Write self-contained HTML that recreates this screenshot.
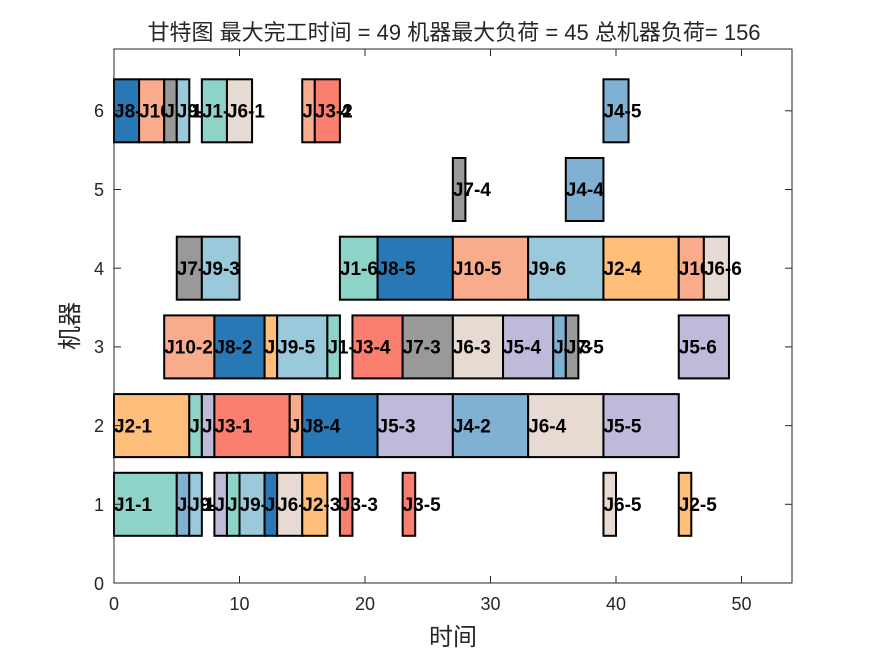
<!DOCTYPE html>
<html><head><meta charset="utf-8"><style>
html,body{margin:0;padding:0;background:#fff;}
svg{display:block;}
.l{font-family:"Liberation Sans",Arial,sans-serif;font-weight:bold;font-size:19px;fill:#000;}
.t{font-family:"Liberation Sans",Arial,sans-serif;font-size:18px;fill:#262626;}
</style></head><body>
<svg width="875" height="656" viewBox="0 0 875 656" xmlns="http://www.w3.org/2000/svg">
<rect x="114" y="49" width="678" height="534" fill="#fff"/>
<g id="bars">
<rect x="114" y="472.8" width="62.75" height="63" fill="#8dd3c7" stroke="#000" stroke-width="2"/><text class="l" x="114" y="511">J1-1</text>
<rect x="176.75" y="472.8" width="12.55" height="63" fill="#80b1d3" stroke="#000" stroke-width="2"/><text class="l" x="176.75" y="511">J4-1</text>
<rect x="189.3" y="472.8" width="12.55" height="63" fill="#9ac9db" stroke="#000" stroke-width="2"/><text class="l" x="189.3" y="511">J9-2</text>
<rect x="214.4" y="472.8" width="12.55" height="63" fill="#bebada" stroke="#000" stroke-width="2"/><text class="l" x="214.4" y="511">J5-1</text>
<rect x="226.95" y="472.8" width="12.55" height="63" fill="#8dd3c7" stroke="#000" stroke-width="2"/><text class="l" x="226.95" y="511">J1-3</text>
<rect x="239.5" y="472.8" width="25.1" height="63" fill="#9ac9db" stroke="#000" stroke-width="2"/><text class="l" x="239.5" y="511">J9-4</text>
<rect x="264.6" y="472.8" width="12.55" height="63" fill="#2878b5" stroke="#000" stroke-width="2"/><text class="l" x="264.6" y="511">J8-3</text>
<rect x="277.15" y="472.8" width="25.1" height="63" fill="#e7dad2" stroke="#000" stroke-width="2"/><text class="l" x="277.15" y="511">J6-2</text>
<rect x="302.25" y="472.8" width="25.1" height="63" fill="#ffbe7a" stroke="#000" stroke-width="2"/><text class="l" x="302.25" y="511">J2-3</text>
<rect x="339.9" y="472.8" width="12.55" height="63" fill="#fa7f6f" stroke="#000" stroke-width="2"/><text class="l" x="339.9" y="511">J3-3</text>
<rect x="402.65" y="472.8" width="12.55" height="63" fill="#fa7f6f" stroke="#000" stroke-width="2"/><text class="l" x="402.65" y="511">J3-5</text>
<rect x="603.45" y="472.8" width="12.55" height="63" fill="#e7dad2" stroke="#000" stroke-width="2"/><text class="l" x="603.45" y="511">J6-5</text>
<rect x="678.75" y="472.8" width="12.55" height="63" fill="#ffbe7a" stroke="#000" stroke-width="2"/><text class="l" x="678.75" y="511">J2-5</text>
<rect x="114" y="394.1" width="75.3" height="63" fill="#ffbe7a" stroke="#000" stroke-width="2"/><text class="l" x="114" y="432.3">J2-1</text>
<rect x="189.3" y="394.1" width="12.55" height="63" fill="#8dd3c7" stroke="#000" stroke-width="2"/><text class="l" x="189.3" y="432.3">J1-2</text>
<rect x="201.85" y="394.1" width="12.55" height="63" fill="#bebada" stroke="#000" stroke-width="2"/><text class="l" x="201.85" y="432.3">J5-2</text>
<rect x="214.4" y="394.1" width="75.3" height="63" fill="#fa7f6f" stroke="#000" stroke-width="2"/><text class="l" x="214.4" y="432.3">J3-1</text>
<rect x="289.7" y="394.1" width="12.55" height="63" fill="#f8ac8c" stroke="#000" stroke-width="2"/><text class="l" x="289.7" y="432.3">J10-3</text>
<rect x="302.25" y="394.1" width="75.3" height="63" fill="#2878b5" stroke="#000" stroke-width="2"/><text class="l" x="302.25" y="432.3">J8-4</text>
<rect x="377.55" y="394.1" width="75.3" height="63" fill="#bebada" stroke="#000" stroke-width="2"/><text class="l" x="377.55" y="432.3">J5-3</text>
<rect x="452.85" y="394.1" width="75.3" height="63" fill="#80b1d3" stroke="#000" stroke-width="2"/><text class="l" x="452.85" y="432.3">J4-2</text>
<rect x="528.15" y="394.1" width="75.3" height="63" fill="#e7dad2" stroke="#000" stroke-width="2"/><text class="l" x="528.15" y="432.3">J6-4</text>
<rect x="603.45" y="394.1" width="75.3" height="63" fill="#bebada" stroke="#000" stroke-width="2"/><text class="l" x="603.45" y="432.3">J5-5</text>
<rect x="164.2" y="315.4" width="50.2" height="63" fill="#f8ac8c" stroke="#000" stroke-width="2"/><text class="l" x="164.2" y="353.6">J10-2</text>
<rect x="214.4" y="315.4" width="50.2" height="63" fill="#2878b5" stroke="#000" stroke-width="2"/><text class="l" x="214.4" y="353.6">J8-2</text>
<rect x="264.6" y="315.4" width="12.55" height="63" fill="#ffbe7a" stroke="#000" stroke-width="2"/><text class="l" x="264.6" y="353.6">J2-2</text>
<rect x="277.15" y="315.4" width="50.2" height="63" fill="#9ac9db" stroke="#000" stroke-width="2"/><text class="l" x="277.15" y="353.6">J9-5</text>
<rect x="327.35" y="315.4" width="12.55" height="63" fill="#8dd3c7" stroke="#000" stroke-width="2"/><text class="l" x="327.35" y="353.6">J1-4</text>
<rect x="352.45" y="315.4" width="50.2" height="63" fill="#fa7f6f" stroke="#000" stroke-width="2"/><text class="l" x="352.45" y="353.6">J3-4</text>
<rect x="402.65" y="315.4" width="50.2" height="63" fill="#999999" stroke="#000" stroke-width="2"/><text class="l" x="402.65" y="353.6">J7-3</text>
<rect x="452.85" y="315.4" width="50.2" height="63" fill="#e7dad2" stroke="#000" stroke-width="2"/><text class="l" x="452.85" y="353.6">J6-3</text>
<rect x="503.05" y="315.4" width="50.2" height="63" fill="#bebada" stroke="#000" stroke-width="2"/><text class="l" x="503.05" y="353.6">J5-4</text>
<rect x="553.25" y="315.4" width="12.55" height="63" fill="#80b1d3" stroke="#000" stroke-width="2"/><text class="l" x="553.25" y="353.6">J4-3</text>
<rect x="565.8" y="315.4" width="12.55" height="63" fill="#999999" stroke="#000" stroke-width="2"/><text class="l" x="565.8" y="353.6">J7-5</text>
<rect x="678.75" y="315.4" width="50.2" height="63" fill="#bebada" stroke="#000" stroke-width="2"/><text class="l" x="678.75" y="353.6">J5-6</text>
<rect x="176.75" y="236.7" width="25.1" height="63" fill="#999999" stroke="#000" stroke-width="2"/><text class="l" x="176.75" y="274.9">J7-2</text>
<rect x="201.85" y="236.7" width="37.65" height="63" fill="#9ac9db" stroke="#000" stroke-width="2"/><text class="l" x="201.85" y="274.9">J9-3</text>
<rect x="339.9" y="236.7" width="37.65" height="63" fill="#8dd3c7" stroke="#000" stroke-width="2"/><text class="l" x="339.9" y="274.9">J1-6</text>
<rect x="377.55" y="236.7" width="75.3" height="63" fill="#2878b5" stroke="#000" stroke-width="2"/><text class="l" x="377.55" y="274.9">J8-5</text>
<rect x="452.85" y="236.7" width="75.3" height="63" fill="#f8ac8c" stroke="#000" stroke-width="2"/><text class="l" x="452.85" y="274.9">J10-5</text>
<rect x="528.15" y="236.7" width="75.3" height="63" fill="#9ac9db" stroke="#000" stroke-width="2"/><text class="l" x="528.15" y="274.9">J9-6</text>
<rect x="603.45" y="236.7" width="75.3" height="63" fill="#ffbe7a" stroke="#000" stroke-width="2"/><text class="l" x="603.45" y="274.9">J2-4</text>
<rect x="678.75" y="236.7" width="25.1" height="63" fill="#f8ac8c" stroke="#000" stroke-width="2"/><text class="l" x="678.75" y="274.9">J10-6</text>
<rect x="703.85" y="236.7" width="25.1" height="63" fill="#e7dad2" stroke="#000" stroke-width="2"/><text class="l" x="703.85" y="274.9">J6-6</text>
<rect x="452.85" y="158" width="12.55" height="63" fill="#999999" stroke="#000" stroke-width="2"/><text class="l" x="452.85" y="196.2">J7-4</text>
<rect x="565.8" y="158" width="37.65" height="63" fill="#80b1d3" stroke="#000" stroke-width="2"/><text class="l" x="565.8" y="196.2">J4-4</text>
<rect x="114" y="79.3" width="25.1" height="63" fill="#2878b5" stroke="#000" stroke-width="2"/><text class="l" x="114" y="117.5">J8-1</text>
<rect x="139.1" y="79.3" width="25.1" height="63" fill="#f8ac8c" stroke="#000" stroke-width="2"/><text class="l" x="139.1" y="117.5">J10-1</text>
<rect x="164.2" y="79.3" width="12.55" height="63" fill="#999999" stroke="#000" stroke-width="2"/><text class="l" x="164.2" y="117.5">J7-1</text>
<rect x="176.75" y="79.3" width="12.55" height="63" fill="#9ac9db" stroke="#000" stroke-width="2"/><text class="l" x="176.75" y="117.5">J9-1</text>
<rect x="201.85" y="79.3" width="25.1" height="63" fill="#8dd3c7" stroke="#000" stroke-width="2"/><text class="l" x="201.85" y="117.5">J1-5</text>
<rect x="226.95" y="79.3" width="25.1" height="63" fill="#e7dad2" stroke="#000" stroke-width="2"/><text class="l" x="226.95" y="117.5">J6-1</text>
<rect x="302.25" y="79.3" width="12.55" height="63" fill="#f8ac8c" stroke="#000" stroke-width="2"/><text class="l" x="302.25" y="117.5">J10-4</text>
<rect x="314.8" y="79.3" width="25.1" height="63" fill="#fa7f6f" stroke="#000" stroke-width="2"/><text class="l" x="314.8" y="117.5">J3-2</text>
<rect x="603.45" y="79.3" width="25.1" height="63" fill="#80b1d3" stroke="#000" stroke-width="2"/><text class="l" x="603.45" y="117.5">J4-5</text>
</g>
<rect x="114" y="49" width="678" height="534" fill="none" stroke="#262626" stroke-width="1"/>
<g stroke="#262626" stroke-width="1">
<line x1="114" y1="583" x2="114" y2="576"/><line x1="239.5" y1="583" x2="239.5" y2="576"/><line x1="365" y1="583" x2="365" y2="576"/><line x1="490.5" y1="583" x2="490.5" y2="576"/><line x1="616" y1="583" x2="616" y2="576"/><line x1="741.5" y1="583" x2="741.5" y2="576"/>
<line x1="239.5" y1="49" x2="239.5" y2="56"/><line x1="365" y1="49" x2="365" y2="56"/><line x1="490.5" y1="49" x2="490.5" y2="56"/><line x1="616" y1="49" x2="616" y2="56"/><line x1="741.5" y1="49" x2="741.5" y2="56"/>
<line x1="114" y1="504.3" x2="121" y2="504.3"/><line x1="114" y1="425.6" x2="121" y2="425.6"/><line x1="114" y1="346.9" x2="121" y2="346.9"/><line x1="114" y1="268.2" x2="121" y2="268.2"/><line x1="114" y1="189.5" x2="121" y2="189.5"/><line x1="114" y1="110.8" x2="121" y2="110.8"/>
<line x1="792" y1="504.3" x2="785" y2="504.3"/><line x1="792" y1="425.6" x2="785" y2="425.6"/><line x1="792" y1="346.9" x2="785" y2="346.9"/><line x1="792" y1="268.2" x2="785" y2="268.2"/><line x1="792" y1="189.5" x2="785" y2="189.5"/><line x1="792" y1="110.8" x2="785" y2="110.8"/>
</g>
<g class="t" text-anchor="middle">
<text x="114" y="610">0</text><text x="239.5" y="610">10</text><text x="365" y="610">20</text><text x="490.5" y="610">30</text><text x="616" y="610">40</text><text x="741.5" y="610">50</text>
</g>
<g class="t" text-anchor="end">
<text x="104" y="590">0</text><text x="104" y="511">1</text><text x="104" y="432">2</text><text x="104" y="353">3</text><text x="104" y="275">4</text><text x="104" y="196">5</text><text x="104" y="117">6</text>
</g>
<text x="454" y="40" text-anchor="middle" style="font-family:'Liberation Sans','Noto Sans CJK SC',sans-serif;font-size:22px;fill:#262626">甘特图 最大完工时间 = 49 机器最大负荷 = 45 总机器负荷= 156</text>
<text x="453" y="645" text-anchor="middle" style="font-family:'Liberation Sans','Noto Sans CJK SC',sans-serif;font-size:24px;fill:#262626">时间</text>
<text transform="translate(78,326) rotate(-90)" text-anchor="middle" style="font-family:'Liberation Sans','Noto Sans CJK SC',sans-serif;font-size:24px;fill:#262626">机器</text>
</svg>
</body></html>
